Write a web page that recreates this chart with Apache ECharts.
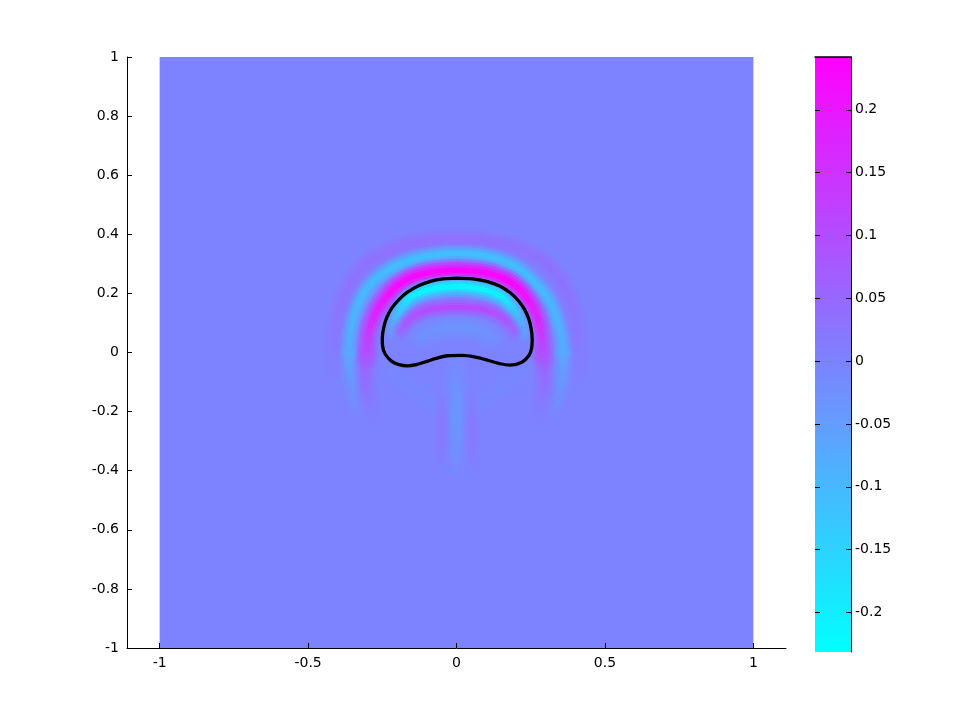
<!DOCTYPE html>
<html>
<head>
<meta charset="utf-8">
<title>Field</title>
<script src="https://cdn.jsdelivr.net/npm/echarts@6/dist/echarts.min.js"></script>
<style>
html, body { margin: 0; padding: 0; background: #fff; }
#chart { width: 968px; height: 726px; }
</style>
</head>
<body>
<div id="chart"></div>
<script>
// colour limits, field extent and tick values
const cLimits = [-0.2315, 0.242]
const fieldBounds = [-1, 1]
const xTicks = [-1, -0.5, 0, 0.5, 1]
const cTicks = [-0.2, -0.15, -0.1, -0.05, 0, 0.05, 0.1, 0.15, 0.2]

// boundary curve (closed)
const curveX = [0, 0.055, 0.105, 0.145, 0.180, 0.208, 0.229, 0.243, 0.251, 0.255, 0.253, 0.244, 0.220, 0.180, 0.142, 0.108, 0.060, 0.020, -0.030, -0.065, -0.100, -0.135, -0.166, -0.197, -0.218, -0.240, -0.249, -0.250, -0.245, -0.235, -0.218, -0.194, -0.165, -0.128, -0.088, -0.045, 0]
const curveY = [0.252, 0.249, 0.240, 0.225, 0.203, 0.176, 0.146, 0.115, 0.083, 0.045, 0.015, -0.010, -0.033, -0.043, -0.037, -0.027, -0.015, -0.010, -0.011, -0.019, -0.030, -0.041, -0.045, -0.040, -0.030, -0.006, 0.022, 0.048, 0.085, 0.118, 0.150, 0.179, 0.204, 0.226, 0.241, 0.249, 0.252]

// field ridges: centre lines and values along them (top -> bottom)
const magentaX = [-0.302, -0.298, -0.286, -0.266, -0.236, -0.200, -0.155, -0.100, -0.050, 0.000, 0.050, 0.100, 0.155, 0.200, 0.237, 0.264, 0.280, 0.288, 0.290]
const magentaY = [-0.020, 0.050, 0.100, 0.143, 0.188, 0.225, 0.253, 0.270, 0.277, 0.279, 0.277, 0.270, 0.252, 0.225, 0.184, 0.138, 0.091, 0.040, -0.020]
const magentaLevels = [0.245, 0.225, 0.195, 0.16, 0.12, 0.07]

const magentaTailLX = [-0.302, -0.306, -0.302, -0.290]
const magentaTailRX = [0.290, 0.296, 0.292, 0.280]
const magentaTailY = [0.000, -0.070, -0.140, -0.210]
const magentaTailLevels = [0.075, 0.05, 0.025, 0.0]

const ringX = [-0.362, -0.354, -0.334, -0.307, -0.267, -0.216, -0.146, -0.075, 0.000, 0.075, 0.151, 0.221, 0.272, 0.312, 0.338, 0.354, 0.360]
const ringY = [0.000, 0.087, 0.156, 0.207, 0.252, 0.288, 0.316, 0.330, 0.335, 0.330, 0.313, 0.275, 0.227, 0.176, 0.115, 0.055, 0.000]
const ringLevels = [-0.115, -0.105, -0.09, -0.07]

const ringTailLX = [-0.362, -0.358, -0.345, -0.324]
const ringTailRX = [0.360, 0.356, 0.343, 0.322]
const ringTailY = [0.000, -0.080, -0.155, -0.225]
const ringTailLevels = [-0.07, -0.045, -0.02, 0.0]

const haloX = [-0.415, -0.405, -0.376, -0.323, -0.242, -0.126, 0.000, 0.126, 0.242, 0.323, 0.376, 0.405, 0.415]
const haloY = [-0.060, 0.080, 0.192, 0.278, 0.338, 0.372, 0.382, 0.372, 0.338, 0.278, 0.192, 0.080, -0.060]
const haloLevels = [0.035, 0.03, 0.02, 0.005]

const innerCyanX = [-0.208, -0.198, -0.174, -0.134, -0.070, 0.000, 0.070, 0.134, 0.178, 0.208, 0.223]
const innerCyanY = [0.075, 0.124, 0.165, 0.198, 0.217, 0.224, 0.217, 0.198, 0.162, 0.117, 0.068]
const innerCyanLevels = [-0.235, -0.2, -0.13, -0.08, -0.05]

const innerPurpleX = [-0.190, -0.160, -0.110, -0.055, 0.000, 0.055, 0.110, 0.165, 0.195]
const innerPurpleY = [0.070, 0.110, 0.139, 0.150, 0.153, 0.150, 0.139, 0.108, 0.068]
const innerPurpleLevels = [0.11, 0.085, 0.04]

const innerBlueX = [-0.120, -0.060, 0.000, 0.060, 0.120]
const innerBlueY = [0.048, 0.075, 0.082, 0.075, 0.048]
const innerBlueLevels = [-0.035, -0.02]

const tailX = [0, 0, 0, 0, 0, 0, 0]
const tailY = [-0.040, -0.100, -0.170, -0.240, -0.300, -0.360, -0.430]
const tailLevels = [-0.008, -0.02, -0.032, -0.036, -0.028, -0.015, 0]

const flankLX = [-0.045, -0.049, -0.049, -0.045]
const flankRX = [0.047, 0.052, 0.052, 0.048]
const flankY = [-0.150, -0.230, -0.310, -0.380]
const flankLevels = [0, 0.018, 0.018, 0]

const veeLX = [-0.215, -0.150, -0.080, -0.020]
const veeRX = [0.215, 0.150, 0.080, 0.020]
const veeY = [-0.070, -0.120, -0.170, -0.220]
const veeLevels = [-0.008, -0.008]

// MATLAB "cool" colormap
function cool(v) {
  let t = (v - cLimits[0]) / (cLimits[1] - cLimits[0])
  t = Math.max(0, Math.min(1, t))
  return 'rgb(' + Math.round(255 * t) + ',' + Math.round(255 * (1 - t)) + ',255)'
}

const bands = [
  { x: haloX, y: haloY, levels: haloLevels, width: 11 },
  { x: ringX, y: ringY, levels: ringLevels, width: 9 },
  { x: ringTailLX, y: ringTailY, levels: ringTailLevels, width: 10 },
  { x: ringTailRX, y: ringTailY, levels: ringTailLevels, width: 10 },
  { x: magentaTailLX, y: magentaTailY, levels: magentaTailLevels, width: 11 },
  { x: magentaTailRX, y: magentaTailY, levels: magentaTailLevels, width: 11 },
  { x: magentaX, y: magentaY, levels: magentaLevels, width: 11 },
  { x: innerBlueX, y: innerBlueY, levels: innerBlueLevels, width: 13 },
  { x: innerCyanX, y: innerCyanY, levels: innerCyanLevels, width: 10.5 },
  { x: innerPurpleX, y: innerPurpleY, levels: innerPurpleLevels, width: 9 },
  { x: veeLX, y: veeY, levels: veeLevels, width: 14 },
  { x: veeRX, y: veeY, levels: veeLevels, width: 14 },
  { x: tailX, y: tailY, levels: tailLevels, width: 13 },
  { x: flankLX, y: flankY, levels: flankLevels, width: 9 },
  { x: flankRX, y: flankY, levels: flankLevels, width: 9 }
]

// soft edges: each ridge is drawn as a few stacked translucent strokes
const layerWidth = [2.0, 1.5, 1.0, 0.5]
const layerAlpha = [0.2, 0.3, 0.45, 0.8]
const peakAlpha = 0.94

function bandSeries(band) {
  const data = band.x.map((x, i) => [x, band.y[i]])
  const stops = band.levels.map((v, i) => ({
    offset: band.levels.length > 1 ? i / (band.levels.length - 1) : 0,
    color: cool(v / peakAlpha)
  }))
  return layerWidth.map((k, j) => ({
    type: 'line',
    data: data,
    smooth: 0.5,
    showSymbol: false,
    silent: true,
    z: 2,
    lineStyle: {
      width: band.width * k,
      opacity: layerAlpha[j],
      cap: 'round',
      join: 'round',
      color: new echarts.graphic.LinearGradient(0, 0, 0, 1, stops)
    }
  }))
}

const font = { fontFamily: 'DejaVu Sans, Liberation Sans, Arial, sans-serif', fontSize: 14, color: '#000' }

const chart = echarts.init(document.getElementById('chart'))

const series = [
  {
    type: 'custom',
    xAxisIndex: 0,
    yAxisIndex: 0,
    z: 0,
    silent: true,
    data: [[fieldBounds[0], fieldBounds[0], fieldBounds[1], fieldBounds[1]]],
    encode: { x: [0, 2], y: [1, 3] },
    renderItem: (params, api) => {
      const p0 = api.coord([api.value(0), api.value(1)])
      const p1 = api.coord([api.value(2), api.value(3)])
      return {
        type: 'rect',
        shape: { x: p0[0], y: p1[1], width: p1[0] - p0[0], height: p0[1] - p1[1] },
        style: { fill: cool(0) }
      }
    }
  }
]
bands.forEach(b => series.push(...bandSeries(b)))
series.push({
  type: 'line',
  data: curveX.map((x, i) => [x, curveY[i]]),
  smooth: 0.35,
  showSymbol: false,
  silent: true,
  z: 5,
  lineStyle: { color: '#000', width: 3.3, join: 'round' }
})
// colorbar
series.push({
  type: 'custom',
  xAxisIndex: 1,
  yAxisIndex: 1,
  z: 0,
  silent: true,
  data: [[0, cLimits[0], 1, cLimits[1]]],
  encode: { x: [0, 2], y: [1, 3] },
  renderItem: (params, api) => {
    const p0 = api.coord([api.value(0), api.value(1)])
    const p1 = api.coord([api.value(2), api.value(3)])
    return {
      type: 'rect',
      shape: { x: p0[0], y: p1[1], width: p1[0] - p0[0], height: p0[1] - p1[1] },
      style: {
        fill: new echarts.graphic.LinearGradient(0, 0, 0, 1, [
          { offset: 0, color: cool(cLimits[1]) },
          { offset: 1, color: cool(cLimits[0]) }
        ])
      }
    }
  }
})

const option = {
  animation: false,
  backgroundColor: '#fff',
  grid: [
    { left: 127, right: 182, top: 57, bottom: 78 },
    { left: 815, right: 117, top: 57, bottom: 74 }
  ],
  xAxis: [
    {
      type: 'value',
      gridIndex: 0,
      z: 10,
      min: -1.11,
      max: 1.11,
      axisLine: { onZero: false, lineStyle: { color: '#000', width: 1 } },
      axisTick: { inside: true, length: 5, customValues: xTicks, lineStyle: { color: '#000' } },
      axisLabel: { customValues: xTicks, margin: 8, ...font },
      splitLine: { show: false }
    },
    {
      type: 'value',
      gridIndex: 1,
      z: 10,
      min: 0,
      max: 1,
      position: 'top',
      axisLine: { onZero: false, lineStyle: { color: '#000', width: 1.5 } },
      axisTick: { show: false },
      axisLabel: { show: false },
      splitLine: { show: false }
    }
  ],
  yAxis: [
    {
      type: 'value',
      gridIndex: 0,
      z: 10,
      min: -1,
      max: 1,
      interval: 0.2,
      axisLine: { onZero: false, lineStyle: { color: '#000', width: 1 } },
      axisTick: { inside: true, length: 5, lineStyle: { color: '#000' } },
      axisLabel: { margin: 8, ...font },
      splitLine: { show: false }
    },
    {
      type: 'value',
      gridIndex: 1,
      z: 10,
      min: cLimits[0],
      max: cLimits[1],
      position: 'right',
      axisLine: { onZero: false, lineStyle: { color: '#000', width: 1 } },
      axisTick: { inside: true, length: 5, customValues: cTicks, lineStyle: { color: '#000' } },
      axisLabel: { customValues: cTicks, margin: 4, ...font },
      splitLine: { show: false }
    },
    {
      type: 'value',
      gridIndex: 1,
      z: 10,
      min: cLimits[0],
      max: cLimits[1],
      position: 'left',
      axisLine: { show: false, onZero: false },
      axisTick: { inside: true, length: 5, customValues: cTicks, lineStyle: { color: '#000' } },
      axisLabel: { show: false },
      splitLine: { show: false }
    }
  ],
  series: series
}

chart.setOption(option)
</script>
</body>
</html>
